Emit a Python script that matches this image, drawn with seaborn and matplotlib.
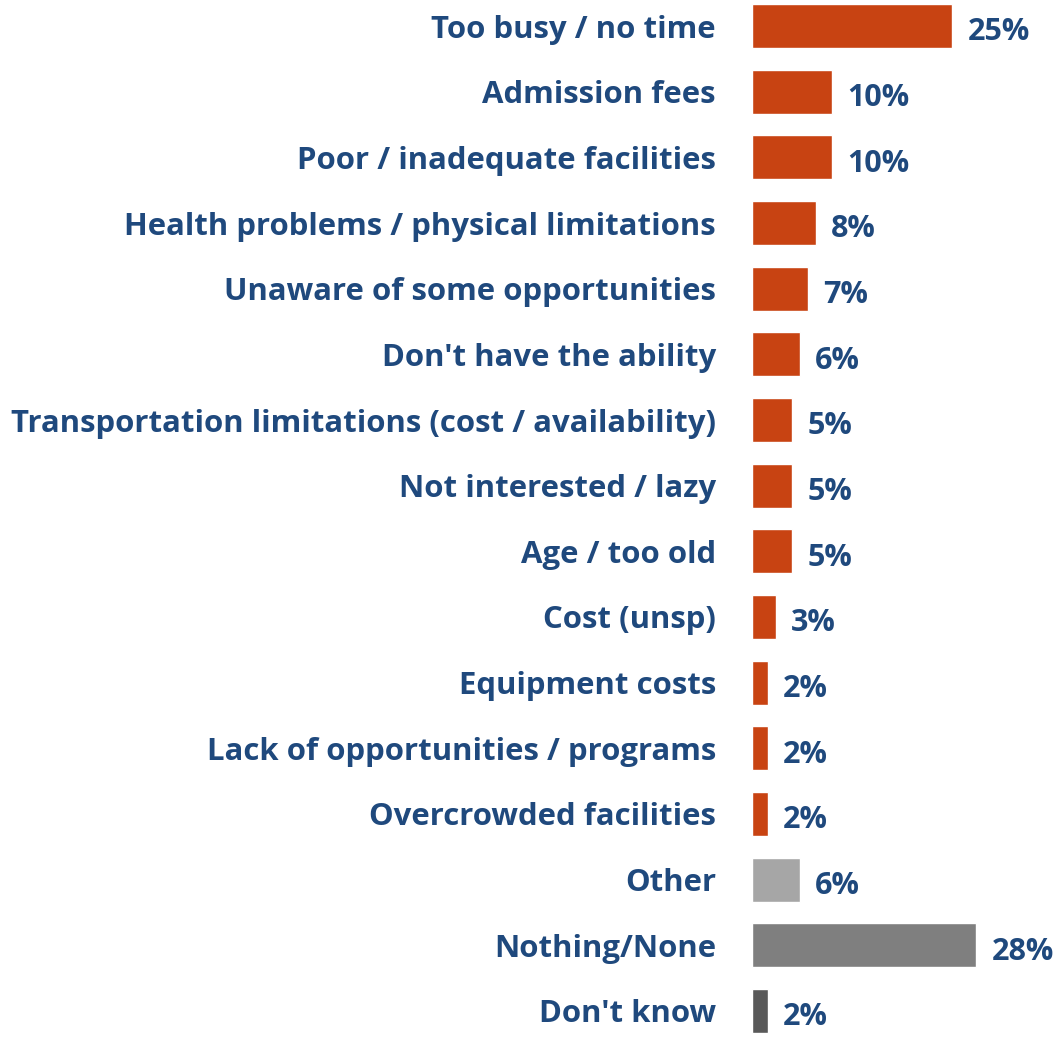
import numpy as np
import pandas as pd
import seaborn as sns
import matplotlib.pyplot as plt

reasons = [
    "Too busy / no time",
    "Admission fees",
    "Poor / inadequate facilities",
    "Health problems / physical limitations",
    "Unaware of some opportunities",
    "Don't have the ability",
    "Transportation limitations (cost / availability)",
    "Not interested / lazy",
    "Age / too old",
    "Cost (unsp)",
    "Equipment costs",
    "Lack of opportunities / programs",
    "Overcrowded facilities",
    "Other",
    "Nothing/None",
    "Don't know",
]
percent = [25, 10, 10, 8, 7, 6, 5, 5, 5, 3, 2, 2, 2, 6, 28, 2]

orange = "#C84312"
bar_colors = [orange] * 13 + ["#A6A6A6", "#7F7F7F", "#595959"]
text_color = "#1F497D"

df = pd.DataFrame({"reason": reasons, "percent": percent})

sns.set_style("white")
plt.rcParams['font.family'] = ['Open Sans', 'DejaVu Sans']

fig = plt.figure(figsize=(10.57, 10.37), dpi=100)
ax = fig.add_axes([752 / 1057, 0, 1 - 752 / 1057, 1])

sns.barplot(data=df, y="reason", x="percent", hue="reason",
            palette=bar_colors, legend=False, width=0.67,
            saturation=1, ax=ax, orient="h")

for c in ax.containers:
    labels = ax.bar_label(c, fmt="%d%%", padding=11, fontsize=22,
                          fontweight="bold", color=text_color)
    for t in labels:
        t.xyann = (11, -4.5)  # nudge down to sit on bar centre

ax.set_xlim(0, 38.1)
ax.set_ylim(15.396, -0.396)
ax.set_xlabel("")
ax.set_ylabel("")
ax.set_xticks([])
ax.tick_params(axis="y", length=0, pad=26)
for lbl in ax.get_yticklabels():
    lbl.set_fontsize(22.4)
    lbl.set_fontweight("bold")
    lbl.set_color(text_color)
sns.despine(ax=ax, left=True, bottom=True)

fig.savefig("out.png", dpi=100)
